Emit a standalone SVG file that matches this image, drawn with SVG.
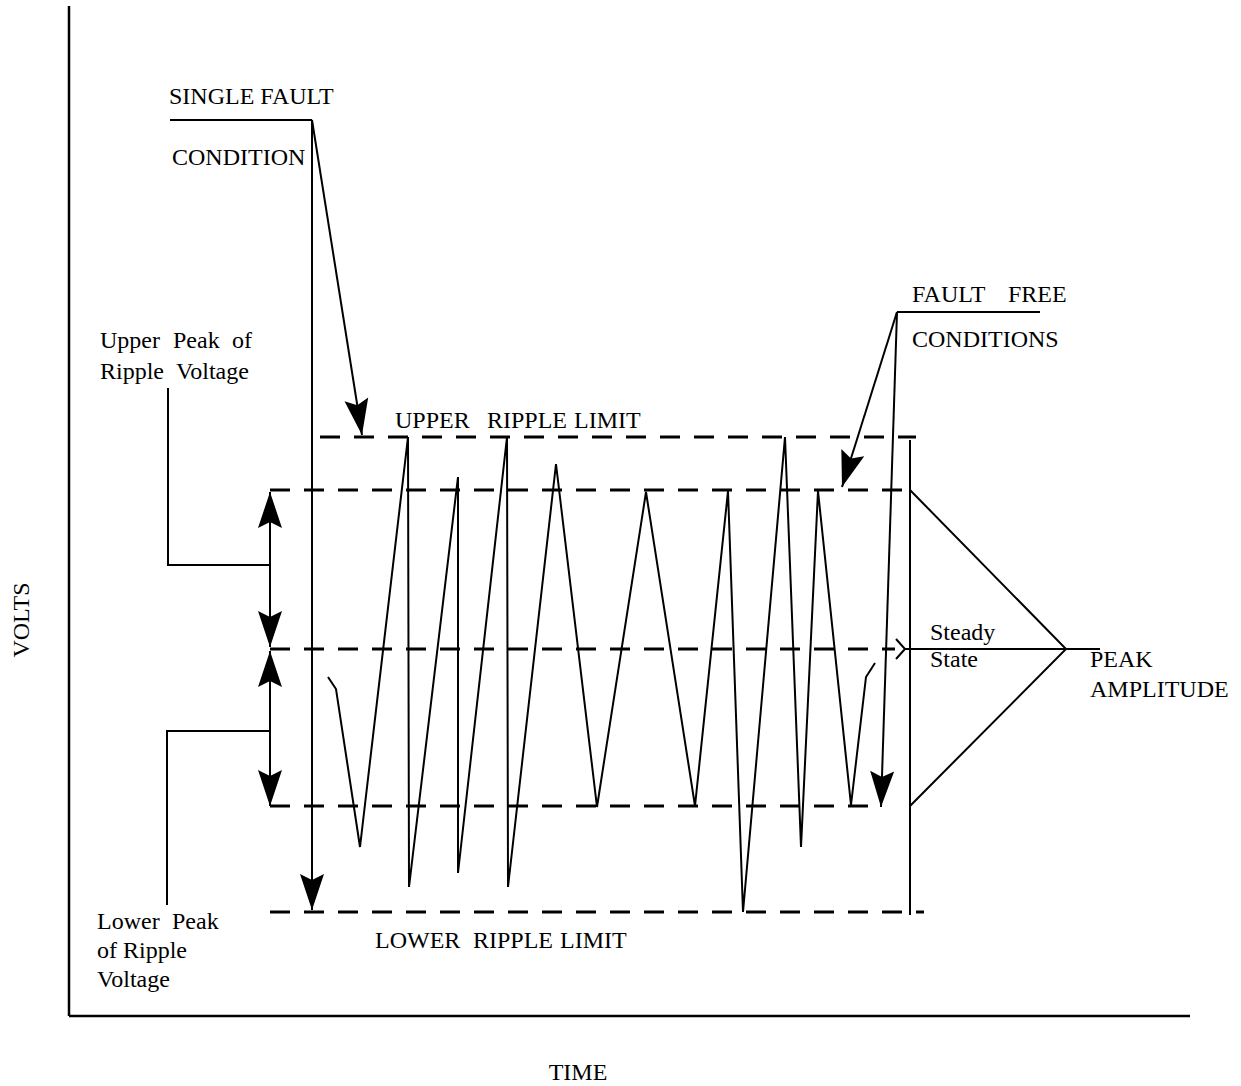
<svg xmlns="http://www.w3.org/2000/svg" width="1241" height="1086" viewBox="0 0 1241 1086">
<style>
text{font-family:"Liberation Serif","Times New Roman",serif;font-size:24px;fill:#000}
.s{fill:none;stroke:#000;stroke-width:2}
.ax{fill:none;stroke:#000;stroke-width:2.5}
.d{fill:none;stroke:#000;stroke-width:3;stroke-dasharray:20 14}
.a{marker-end:url(#ah)}
.aa{marker-start:url(#ah);marker-end:url(#ah)}
</style>
<defs>
<marker id="ah" markerUnits="userSpaceOnUse" viewBox="-37 -13 38 26" markerWidth="38" markerHeight="26" refX="0" refY="0" orient="auto-start-reverse">
<path d="M0,0 L-36,-12 L-30,0 L-36,12 Z" fill="#000"/>
</marker>
</defs>
<g id="axes">
<line class="ax" x1="69" y1="6" x2="69" y2="1016"/>
<line class="ax" x1="69" y1="1016" x2="1190" y2="1016"/>
<text x="29" y="620" transform="rotate(-90 29 620)" text-anchor="middle">VOLTS</text>
<text x="578" y="1080" text-anchor="middle">TIME</text>
</g>
<g id="levels">
<line class="d" x1="320" y1="437" x2="916" y2="437"/>
<line class="d" x1="270" y1="490" x2="902" y2="490"/>
<line class="d" x1="270" y1="649" x2="895" y2="649"/>
<line class="d" x1="270" y1="806" x2="882" y2="806"/>
<line class="d" x1="270" y1="912" x2="924" y2="912"/>
</g>
<g id="waveform">
<polyline class="s" points="328,677 336,689 360,847 408,437 409,887 458,477 458,873 507,437 508,887 556,464 597,807 646,492 695,806 728,491 743,912 785,437 801,847 818,491 851,805 866,677 875,663"/>
</g>
<g id="single-fault">
<text x="169" y="104">SINGLE FAULT</text>
<text x="172" y="165">CONDITION</text>
</g>
<g id="upper-peak-label">
<text y="348"><tspan x="100">Upper</tspan><tspan x="173">Peak</tspan><tspan x="232">of</tspan></text>
<text y="379"><tspan x="100">Ripple</tspan><tspan x="176">Voltage</tspan></text>
</g>
<g id="lower-peak-label">
<text y="929"><tspan x="97">Lower</tspan><tspan x="172">Peak</tspan></text>
<text x="97" y="958">of Ripple</text>
<text x="97" y="987">Voltage</text>
</g>
<g id="upper-limit">
<text y="428"><tspan x="395">UPPER</tspan><tspan x="487">RIPPLE</tspan><tspan x="574">LIMIT</tspan></text>
</g>
<g id="lower-limit">
<text y="948"><tspan x="375">LOWER</tspan><tspan x="473">RIPPLE</tspan><tspan x="560">LIMIT</tspan></text>
</g>
<g id="fault-free">
<text y="302"><tspan x="912">FAULT</tspan><tspan x="1008">FREE</tspan></text>
<text x="912" y="347">CONDITIONS</text>
</g>
<g id="steady-state">
<text x="930" y="640">Steady</text>
<text x="930" y="667">State</text>
</g>
<g id="peak-amplitude">
<text x="1090" y="667">PEAK</text>
<text x="1090" y="697">AMPLITUDE</text>
</g>
<g id="connectors">
<polyline class="s" points="170,120 312,120"/>
<line class="s a" x1="312" y1="120" x2="312" y2="910"/>
<line class="s a" x1="312" y1="120" x2="362" y2="435"/>
<polyline class="s" points="168,388 168,565 270,565"/>
<polyline class="s" points="270,731 167,731 167,905"/>
<line class="s aa" x1="270" y1="492" x2="270" y2="647"/>
<line class="s aa" x1="270" y1="651" x2="270" y2="806"/>
<line class="s" x1="897" y1="312" x2="1040" y2="312"/>
<line class="s a" x1="897" y1="312" x2="842" y2="487"/>
<line class="s a" x1="897" y1="312" x2="881" y2="807"/>
<line class="s" x1="910" y1="440" x2="910" y2="915"/>
<polyline class="s" points="910,490 1066,649 910,806"/>
<line class="s" x1="905" y1="649" x2="1100" y2="649"/>
<polyline class="s" points="896,639 905,649 896,659"/>
</g>
</svg>
